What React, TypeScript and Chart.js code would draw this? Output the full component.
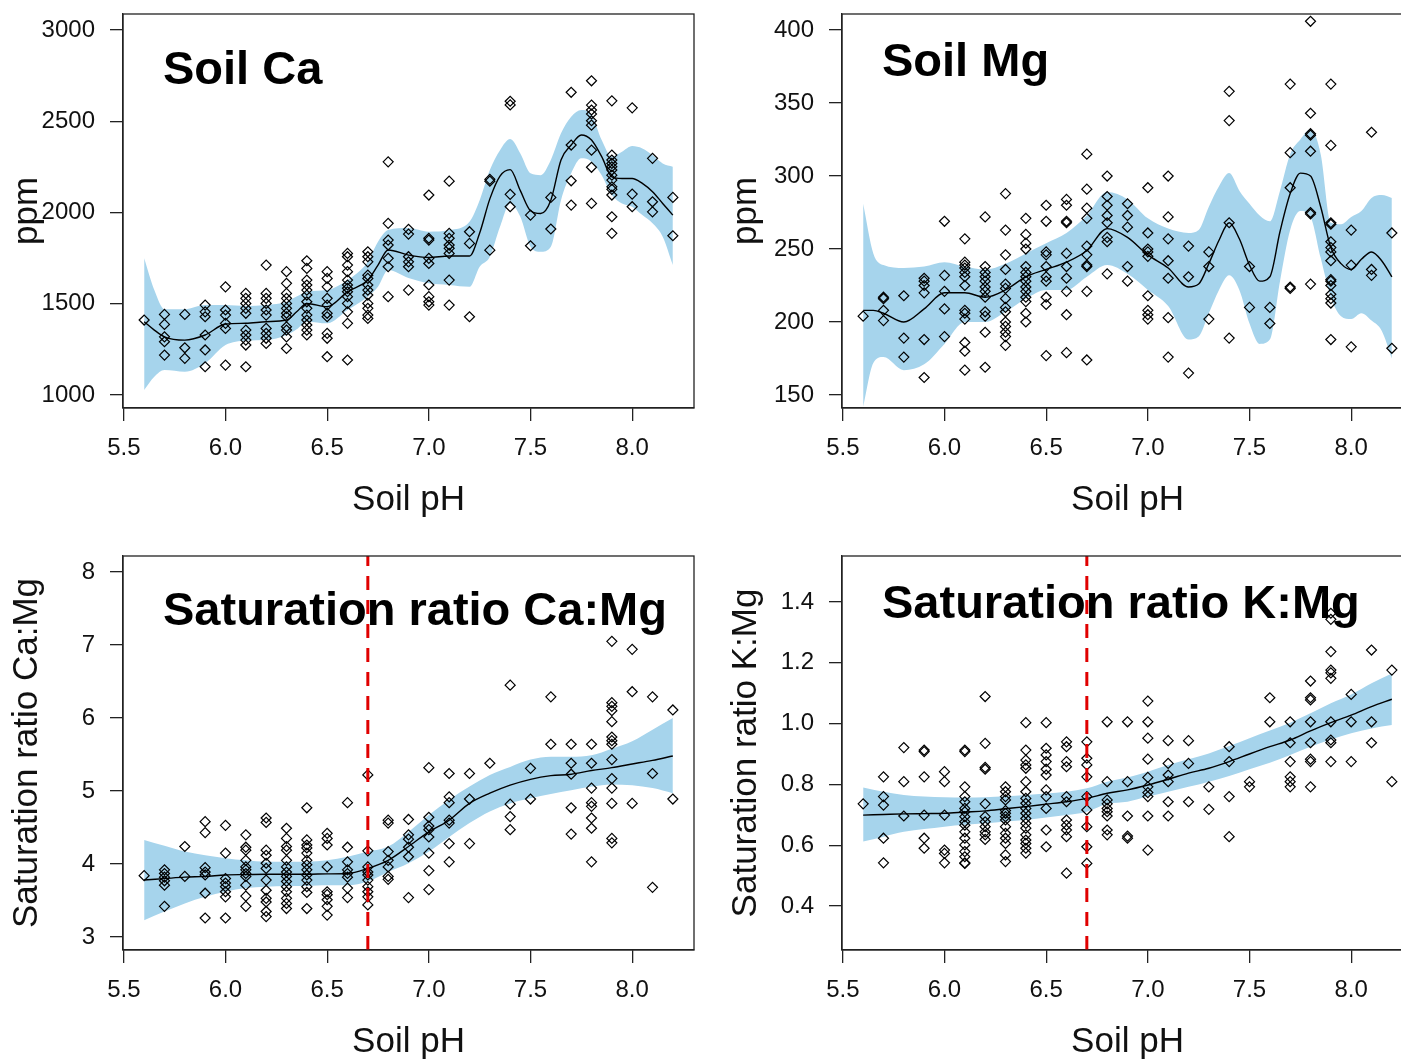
import React, { useEffect, useRef } from "react";
import { Chart, registerables } from "chart.js";

Chart.register(...registerables);

const FONT = "'Liberation Sans', Arial, Helvetica, sans-serif";
const TEXT = "#111111";
const AXIS = "#222222";
const BAND = "#A6D4EC";
const CUTOFF_COLOR = "#E00000";

// ---------- shared x axis ----------
const phLevels = [5.6, 5.7, 5.8, 5.9, 6.0, 6.1, 6.2, 6.3, 6.4, 6.5, 6.6, 6.7, 6.8, 6.9, 7.0, 7.1, 7.2, 7.3, 7.4, 7.5, 7.6, 7.7, 7.8, 7.9, 8.0, 8.1, 8.2];
const xTickValues = [5.5, 6.0, 6.5, 7.0, 7.5, 8.0];
const xMin = 5.496;
const xMax = 8.304;
const cutoffPH = 6.7;

// ---------- Soil Ca (ppm) ----------
const caByPH = [
  [1411],
  [1442, 1387, 1319, 1292, 1219],
  [1442, 1259, 1201],
  [1493, 1456, 1429, 1329, 1247, 1155],
  [1593, 1466, 1438, 1393, 1365, 1164],
  [1557, 1530, 1502, 1475, 1448, 1356, 1329, 1301, 1274, 1155],
  [1712, 1557, 1530, 1502, 1466, 1438, 1365, 1338, 1311, 1283],
  [1676, 1612, 1557, 1530, 1502, 1475, 1448, 1429, 1374, 1356, 1319, 1255],
  [1736, 1694, 1630, 1603, 1575, 1548, 1511, 1475, 1438, 1411, 1384, 1356, 1329],
  [1676, 1639, 1593, 1530, 1493, 1448, 1429, 1338, 1311, 1210],
  [1776, 1758, 1712, 1676, 1630, 1603, 1585, 1566, 1539, 1502, 1456, 1393, 1192],
  [1785, 1758, 1730, 1657, 1639, 1603, 1575, 1548, 1502, 1475, 1438, 1420],
  [2278, 1941, 1849, 1822, 1749, 1703, 1539],
  [1908, 1882, 1758, 1730, 1703, 1575],
  [2096, 1859, 1849, 1749, 1721, 1603, 1539, 1511, 1493],
  [2172, 1886, 1859, 1822, 1804, 1776, 1630, 1493],
  [1895, 1831, 1429],
  [2182, 2172, 1794],
  [2610, 2590, 2100, 2032],
  [1986, 1818],
  [2083, 1910],
  [2659, 2370, 2174, 2041],
  [2722, 2589, 2562, 2540, 2503, 2479, 2342, 2248, 2050],
  [2612, 2315, 2288, 2269, 2251, 2233, 2205, 2178, 2141, 2127, 2096, 1977, 1886],
  [2574, 2101, 2032],
  [2297, 2059, 2004],
  [2083, 1873],
];
const caFitPH = [5.6, 5.65, 5.7, 5.8, 5.9, 6.0, 6.1, 6.2, 6.3, 6.35, 6.4, 6.5, 6.6, 6.7, 6.75, 6.8, 6.9, 7.0, 7.1, 7.2, 7.25, 7.3, 7.35, 7.4, 7.45, 7.5, 7.55, 7.6, 7.65, 7.7, 7.75, 7.8, 7.85, 7.9, 7.95, 8.0, 8.05, 8.1, 8.15, 8.2];
const caFit = [1402, 1356, 1319, 1301, 1329, 1389, 1393, 1402, 1411, 1456, 1502, 1484, 1566, 1630, 1712, 1795, 1767, 1754, 1762, 1762, 1888, 2075, 2200, 2235, 2120, 2010, 1995, 2068, 2288, 2370, 2425, 2397, 2306, 2196, 2187, 2187, 2160, 2114, 2050, 1986];
const caLower = [1027, 1100, 1137, 1128, 1174, 1274, 1298, 1301, 1329, 1360, 1402, 1393, 1466, 1539, 1593, 1685, 1641, 1612, 1603, 1593, 1703, 1758, 1922, 2050, 1977, 1813, 1785, 1813, 2068, 2215, 2297, 2279, 2205, 2096, 2050, 2032, 1986, 1941, 1868, 1712];
const caUpper = [1749, 1575, 1470, 1470, 1493, 1493, 1488, 1493, 1511, 1540, 1566, 1575, 1630, 1731, 1840, 1904, 1915, 1895, 1904, 1950, 2068, 2233, 2342, 2403, 2324, 2215, 2205, 2288, 2434, 2525, 2562, 2534, 2397, 2306, 2333, 2364, 2351, 2315, 2269, 2251];
const caYTicks = [1000, 1500, 2000, 2500, 3000];

// ---------- Soil Mg (ppm) ----------
const mgByPH = [
  [204],
  [217, 216, 208, 201],
  [218, 189, 176],
  [230, 228, 225, 220, 188, 162],
  [269, 232, 221, 209, 190],
  [257, 241, 239, 237, 234, 231, 225, 208, 206, 202, 186, 180, 167],
  [272, 238, 234, 231, 228, 224, 221, 217, 207, 204, 193, 169],
  [288, 263, 246, 236, 226, 223, 216, 210, 207, 200, 197, 193, 190, 184],
  [271, 260, 254, 250, 238, 234, 231, 228, 224, 221, 217, 214, 206, 200],
  [280, 269, 248, 246, 238, 231, 228, 217, 212, 177],
  [284, 280, 269, 268, 247, 238, 230, 221, 205, 179],
  [315, 291, 278, 271, 252, 246, 239, 238, 221, 174],
  [300, 286, 280, 273, 268, 258, 255, 233],
  [281, 273, 265, 238, 228],
  [292, 261, 250, 248, 245, 218, 208, 205, 202],
  [300, 272, 257, 242, 230, 203, 176],
  [252, 231, 165],
  [248, 238, 202],
  [358, 338, 268, 189],
  [238, 210],
  [210, 199],
  [363, 316, 292, 224, 223],
  [406, 343, 329, 328, 317, 275, 274, 226],
  [363, 321, 268, 267, 255, 251, 248, 242, 229, 228, 225, 219, 216, 213, 188],
  [263, 239, 183],
  [330, 236, 232],
  [261, 182],
];
const mgFitPH = [5.6, 5.65, 5.7, 5.8, 5.9, 6.0, 6.1, 6.2, 6.3, 6.4, 6.5, 6.6, 6.7, 6.8, 6.9, 7.0, 7.1, 7.2, 7.25, 7.3, 7.35, 7.4, 7.45, 7.5, 7.55, 7.6, 7.65, 7.7, 7.75, 7.8, 7.85, 7.9, 7.95, 8.0, 8.05, 8.1, 8.15, 8.2];
const mgFit = [208, 208, 206, 200, 209, 220, 220, 217, 222, 231, 236, 241, 249, 264, 258, 246, 237, 224, 226, 240, 256, 268, 257, 239, 228, 231, 262, 288, 302, 300, 279, 251, 240, 236, 243, 248, 242, 231];
const mgLower = [142, 172, 176, 167, 171, 185, 200, 200, 207, 216, 222, 222, 231, 239, 233, 222, 211, 188, 190, 206, 222, 232, 222, 199, 185, 188, 228, 263, 276, 272, 244, 217, 204, 202, 206, 201, 194, 175];
const mgUpper = [281, 247, 239, 237, 238, 241, 238, 236, 240, 247, 254, 261, 273, 289, 284, 271, 264, 261, 263, 279, 293, 302, 290, 281, 273, 269, 290, 315, 325, 332, 315, 268, 267, 272, 276, 285, 287, 285];
const mgYTicks = [150, 200, 250, 300, 350, 400];

// ---------- Saturation ratio Ca:Mg ----------
const caMgByPH = [
  [3.84],
  [3.92, 3.87, 3.82, 3.77, 3.71, 3.42],
  [4.24, 3.83],
  [4.58, 4.43, 3.95, 3.89, 3.85, 3.6, 3.26],
  [4.53, 4.15, 3.8, 3.74, 3.69, 3.62, 3.55, 3.26],
  [4.4, 4.23, 4.19, 4.05, 3.96, 3.92, 3.87, 3.83, 3.71, 3.56, 3.42],
  [4.63, 4.57, 4.19, 4.12, 4.01, 3.94, 3.78, 3.64, 3.53, 3.48, 3.35, 3.28],
  [4.49, 4.35, 4.24, 4.19, 4.05, 3.96, 3.89, 3.83, 3.76, 3.69, 3.62, 3.53, 3.46, 3.39],
  [4.77, 4.33, 4.26, 4.22, 4.15, 4.05, 3.99, 3.92, 3.85, 3.78, 3.69, 3.61, 3.39],
  [4.42, 4.35, 4.26, 3.96, 3.62, 3.58, 3.51, 3.42, 3.3],
  [4.84, 4.23, 4.03, 3.92, 3.87, 3.82, 3.67, 3.54],
  [5.22, 4.18, 3.96, 3.89, 3.85, 3.78, 3.69, 3.62, 3.55, 3.44],
  [4.6, 4.56, 4.17, 4.05, 3.96, 3.83, 3.79],
  [4.61, 4.4, 4.34, 4.23, 4.1, 3.54],
  [5.32, 4.64, 4.52, 4.47, 4.37, 4.15, 3.91, 3.65],
  [5.24, 4.92, 4.84, 4.6, 4.56, 4.28, 4.03],
  [5.24, 4.89, 4.28],
  [5.38],
  [6.45, 4.82, 4.65, 4.47],
  [5.31, 4.89],
  [6.29, 5.64],
  [5.64, 5.38, 5.23, 4.77, 4.41],
  [5.64, 5.38, 5.04, 4.84, 4.79, 4.63, 4.49, 4.03],
  [7.05, 6.21, 6.16, 6.1, 5.95, 5.74, 5.69, 5.64, 5.43, 5.17, 5.04, 4.83, 4.35, 4.29],
  [6.94, 6.36, 4.83],
  [6.29, 5.24, 3.68],
  [6.11, 4.89],
];
const caMgFit = [3.78, 3.8, 3.82, 3.83, 3.85, 3.855, 3.86, 3.86, 3.86, 3.865, 3.87, 3.94, 4.05, 4.24, 4.44, 4.6, 4.83, 4.97, 5.08, 5.16, 5.21, 5.23, 5.28, 5.32, 5.37, 5.42, 5.48];
const caMgLower = [3.23, 3.35, 3.46, 3.55, 3.62, 3.67, 3.69, 3.7, 3.7, 3.71, 3.71, 3.76, 3.89, 4.01, 4.17, 4.37, 4.56, 4.72, 4.83, 4.9, 4.96, 5.01, 5.06, 5.09, 5.08, 5.04, 4.97];
const caMgUpper = [4.33, 4.25, 4.17, 4.12, 4.08, 4.05, 4.03, 4.03, 4.03, 4.05, 4.1, 4.17, 4.24, 4.44, 4.67, 4.88, 5.06, 5.22, 5.33, 5.43, 5.47, 5.47, 5.49, 5.58, 5.68, 5.84, 6.0];
const caMgYTicks = [3, 4, 5, 6, 7, 8];

// ---------- Saturation ratio K:Mg ----------
const kMgByPH = [
  [0.736],
  [0.825, 0.76, 0.732, 0.623, 0.542],
  [0.921, 0.809, 0.696],
  [0.913, 0.908, 0.825, 0.699, 0.623, 0.59],
  [0.842, 0.809, 0.699, 0.584, 0.573, 0.542],
  [0.913, 0.908, 0.792, 0.76, 0.743, 0.721, 0.71, 0.694, 0.677, 0.666, 0.644, 0.623, 0.601, 0.579, 0.562, 0.542, 0.54],
  [1.089, 0.935, 0.856, 0.85, 0.736, 0.694, 0.677, 0.661, 0.644, 0.634, 0.619],
  [0.792, 0.776, 0.76, 0.749, 0.714, 0.705, 0.694, 0.683, 0.661, 0.639, 0.623, 0.606, 0.568, 0.546],
  [1.003, 0.913, 0.88, 0.864, 0.853, 0.809, 0.776, 0.754, 0.738, 0.721, 0.705, 0.688, 0.672, 0.656, 0.634, 0.617, 0.606, 0.59, 0.574],
  [1.003, 0.919, 0.897, 0.875, 0.85, 0.831, 0.782, 0.76, 0.721, 0.65, 0.595],
  [0.94, 0.924, 0.875, 0.858, 0.76, 0.743, 0.683, 0.666, 0.65, 0.628, 0.508],
  [0.94, 0.886, 0.864, 0.825, 0.76, 0.716, 0.661, 0.595, 0.54],
  [1.006, 0.809, 0.749, 0.736, 0.721, 0.71, 0.696, 0.65, 0.634],
  [1.006, 0.809, 0.696, 0.63, 0.623],
  [1.074, 1.006, 0.952, 0.883, 0.823, 0.792, 0.773, 0.76, 0.696, 0.584],
  [0.944, 0.869, 0.831, 0.809, 0.743, 0.696],
  [0.944, 0.869, 0.743],
  [0.792, 0.718],
  [0.924, 0.875, 0.76, 0.628],
  [0.809, 0.792],
  [1.085, 1.006],
  [1.006, 0.937, 0.875, 0.825, 0.809, 0.792],
  [1.14, 1.085, 1.078, 1.006, 0.937, 0.883, 0.875, 0.792],
  [1.363, 1.343, 1.237, 1.176, 1.167, 1.149, 1.006, 0.946, 0.937, 0.875],
  [1.096, 1.006, 0.875],
  [1.242, 1.006, 0.937],
  [1.176, 0.809],
];
const kMgFit = [0.699, 0.701, 0.703, 0.704, 0.705, 0.709, 0.713, 0.72, 0.727, 0.735, 0.743, 0.754, 0.771, 0.782, 0.798, 0.817, 0.837, 0.853, 0.875, 0.9, 0.924, 0.946, 0.976, 1.003, 1.028, 1.056, 1.08];
const kMgLower = [0.612, 0.628, 0.644, 0.653, 0.661, 0.667, 0.672, 0.678, 0.683, 0.691, 0.699, 0.71, 0.736, 0.743, 0.76, 0.776, 0.792, 0.809, 0.828, 0.85, 0.871, 0.897, 0.924, 0.948, 0.968, 0.984, 0.995];
const kMgUpper = [0.79, 0.776, 0.765, 0.76, 0.758, 0.757, 0.758, 0.761, 0.765, 0.77, 0.776, 0.787, 0.809, 0.823, 0.842, 0.864, 0.883, 0.902, 0.926, 0.952, 0.977, 1.003, 1.034, 1.067, 1.096, 1.133, 1.165];
const kMgYTicks = [0.4, 0.6, 0.8, 1.0, 1.2, 1.4];

// ---------- panel definitions (layout, not data) ----------
type PanelSpec = {
  title: string;
  yTitle: string;
  byPH: number[][];
  fitPH: number[];
  fit: number[];
  lower: number[];
  upper: number[];
  yTicks: number[];
  yMin: number;
  yMax: number;
  decimals: number;
  cutoff: number | null;
  titleDy: number;
  left: number;
  top: number;
};

const CANVAS_W = 720;
const CANVAS_H = 542;

const panels: PanelSpec[] = [
  { title: "Soil Ca", yTitle: "ppm", byPH: caByPH, fitPH: caFitPH, fit: caFit, lower: caLower, upper: caUpper, yTicks: caYTicks, yMin: 929, yMax: 3088, decimals: 0, cutoff: null, titleDy: 70, left: 0, top: 0 },
  { title: "Soil Mg", yTitle: "ppm", byPH: mgByPH, fitPH: mgFitPH, fit: mgFit, lower: mgLower, upper: mgUpper, yTicks: mgYTicks, yMin: 141.1, yMax: 411, decimals: 0, cutoff: null, titleDy: 62, left: 719, top: 0 },
  { title: "Saturation ratio Ca:Mg", yTitle: "Saturation ratio Ca:Mg", byPH: caMgByPH, fitPH: phLevels, fit: caMgFit, lower: caMgLower, upper: caMgUpper, yTicks: caMgYTicks, yMin: 2.822, yMax: 8.219, decimals: 0, cutoff: cutoffPH, titleDy: 69, left: 0, top: 542 },
  { title: "Saturation ratio K:Mg", yTitle: "Saturation ratio K:Mg", byPH: kMgByPH, fitPH: phLevels, fit: kMgFit, lower: kMgLower, upper: kMgUpper, yTicks: kMgYTicks, yMin: 0.2553, yMax: 1.5513, decimals: 1, cutoff: cutoffPH, titleDy: 62, left: 719, top: 542 },
];

function Panel({ spec }: { spec: PanelSpec }) {
  const ref = useRef<HTMLCanvasElement | null>(null);

  useEffect(() => {
    const canvas = ref.current;
    if (!canvas) return;

    const points: { x: number; y: number }[] = [];
    spec.byPH.forEach((vals, i) => vals.forEach((v) => points.push({ x: phLevels[i], y: v })));
    const fitPts = spec.fitPH.map((x, i) => ({ x, y: spec.fit[i] }));
    const lowPts = spec.fitPH.map((x, i) => ({ x, y: spec.lower[i] }));
    const upPts = spec.fitPH.map((x, i) => ({ x, y: spec.upper[i] }));

    const datasets: any[] = [];
    datasets.push({
      type: "line",
      data: spec.cutoff === null ? [] : [{ x: spec.cutoff, y: spec.yMin }, { x: spec.cutoff, y: spec.yMax }],
      borderColor: CUTOFF_COLOR,
      borderWidth: 3,
      borderDash: [14, 10],
      pointRadius: 0,
      fill: false,
      order: 0,
    });
    datasets.push({
      type: "scatter",
      data: points,
      pointStyle: "rectRot",
      pointRadius: 5,
      borderColor: "#000000",
      backgroundColor: "rgba(0,0,0,0)",
      borderWidth: 1.2,
      order: 1,
    });
    datasets.push({
      type: "line",
      data: fitPts,
      borderColor: "#000000",
      borderWidth: 1.4,
      pointRadius: 0,
      cubicInterpolationMode: "monotone",
      fill: false,
      order: 2,
    });
    datasets.push({
      type: "line",
      data: lowPts,
      borderWidth: 0,
      borderColor: "rgba(0,0,0,0)",
      pointRadius: 0,
      cubicInterpolationMode: "monotone",
      fill: false,
      order: 3,
    });
    datasets.push({
      type: "line",
      data: upPts,
      borderWidth: 0,
      borderColor: "rgba(0,0,0,0)",
      backgroundColor: BAND,
      pointRadius: 0,
      cubicInterpolationMode: "monotone",
      fill: "-1",
      order: 3,
    });

    const panelDecor = {
      id: "panelDecor",
      beforeDatasetsDraw(chart: any) {
        const { ctx, chartArea } = chart;
        ctx.save();
        ctx.font = `bold 47px ${FONT}`;
        ctx.fillStyle = "#000000";
        ctx.textAlign = "left";
        ctx.textBaseline = "alphabetic";
        ctx.fillText(spec.title, chartArea.left + 40, chartArea.top + spec.titleDy);
        ctx.restore();
      },
      afterDatasetsDraw(chart: any) {
        const { ctx, chartArea } = chart;
        ctx.save();
        ctx.strokeStyle = AXIS;
        ctx.lineWidth = 1.3;
        ctx.strokeRect(chartArea.left, chartArea.top, chartArea.right - chartArea.left, chartArea.bottom - chartArea.top);
        ctx.restore();
      },
    };

    const chart = new Chart(canvas, {
      type: "scatter",
      data: { datasets },
      plugins: [panelDecor],
      options: {
        responsive: false,
        animation: false,
        devicePixelRatio: 1,
        layout: { padding: { left: 0, top: 14, right: CANVAS_W - 694, bottom: 14 } },
        plugins: { legend: { display: false }, tooltip: { enabled: false } },
        events: [],
        scales: {
          x: {
            type: "linear",
            min: xMin,
            max: xMax,
            afterBuildTicks: (s: any) => {
              s.ticks = xTickValues.map((v) => ({ value: v }));
            },
            afterFit: (s: any) => {
              s.height = 120;
              s.paddingLeft = 0;
              s.paddingRight = 0;
              s.paddingTop = 0;
              s.paddingBottom = 0;
            },
            grid: { drawOnChartArea: false, drawTicks: true, tickLength: 13, color: AXIS, lineWidth: 1.3 },
            border: { display: true, color: AXIS, width: 1.3 },
            ticks: {
              font: { family: FONT, size: 24 },
              color: TEXT,
              padding: 13,
              maxRotation: 0,
              autoSkip: false,
              callback: (v: any) => Number(v).toFixed(1),
            },
            title: { display: true, text: "Soil pH", font: { family: FONT, size: 35 }, color: TEXT, padding: { top: 0, bottom: 7 } },
          },
          y: {
            type: "linear",
            min: spec.yMin,
            max: spec.yMax,
            afterBuildTicks: (s: any) => {
              s.ticks = spec.yTicks.map((v) => ({ value: v }));
            },
            afterFit: (s: any) => {
              s.width = 123;
              s.paddingLeft = 0;
              s.paddingRight = 0;
              s.paddingTop = 0;
              s.paddingBottom = 0;
            },
            grid: { drawOnChartArea: false, drawTicks: true, tickLength: 13, color: AXIS, lineWidth: 1.3 },
            border: { display: true, color: AXIS, width: 1.3 },
            ticks: {
              font: { family: FONT, size: 24 },
              color: TEXT,
              padding: 15,
              autoSkip: false,
              callback: (v: any) => Number(v).toFixed(spec.decimals),
            },
            title: { display: true, text: spec.yTitle, font: { family: FONT, size: 35 }, color: TEXT, padding: { top: 6, bottom: 0 } },
          },
        },
      } as any,
    });

    return () => chart.destroy();
  }, [spec]);

  return (
    <canvas
      ref={ref}
      width={CANVAS_W}
      height={CANVAS_H}
      style={{ position: "absolute", left: spec.left, top: spec.top, width: CANVAS_W, height: CANVAS_H, display: "block" }}
    />
  );
}

export default function App() {
  return (
    <div style={{ position: "fixed", left: 0, top: 0, width: 1401, height: 1063, overflow: "hidden", background: "#ffffff" }}>
      {panels.map((p, i) => (
        <Panel key={i} spec={p} />
      ))}
    </div>
  );
}
